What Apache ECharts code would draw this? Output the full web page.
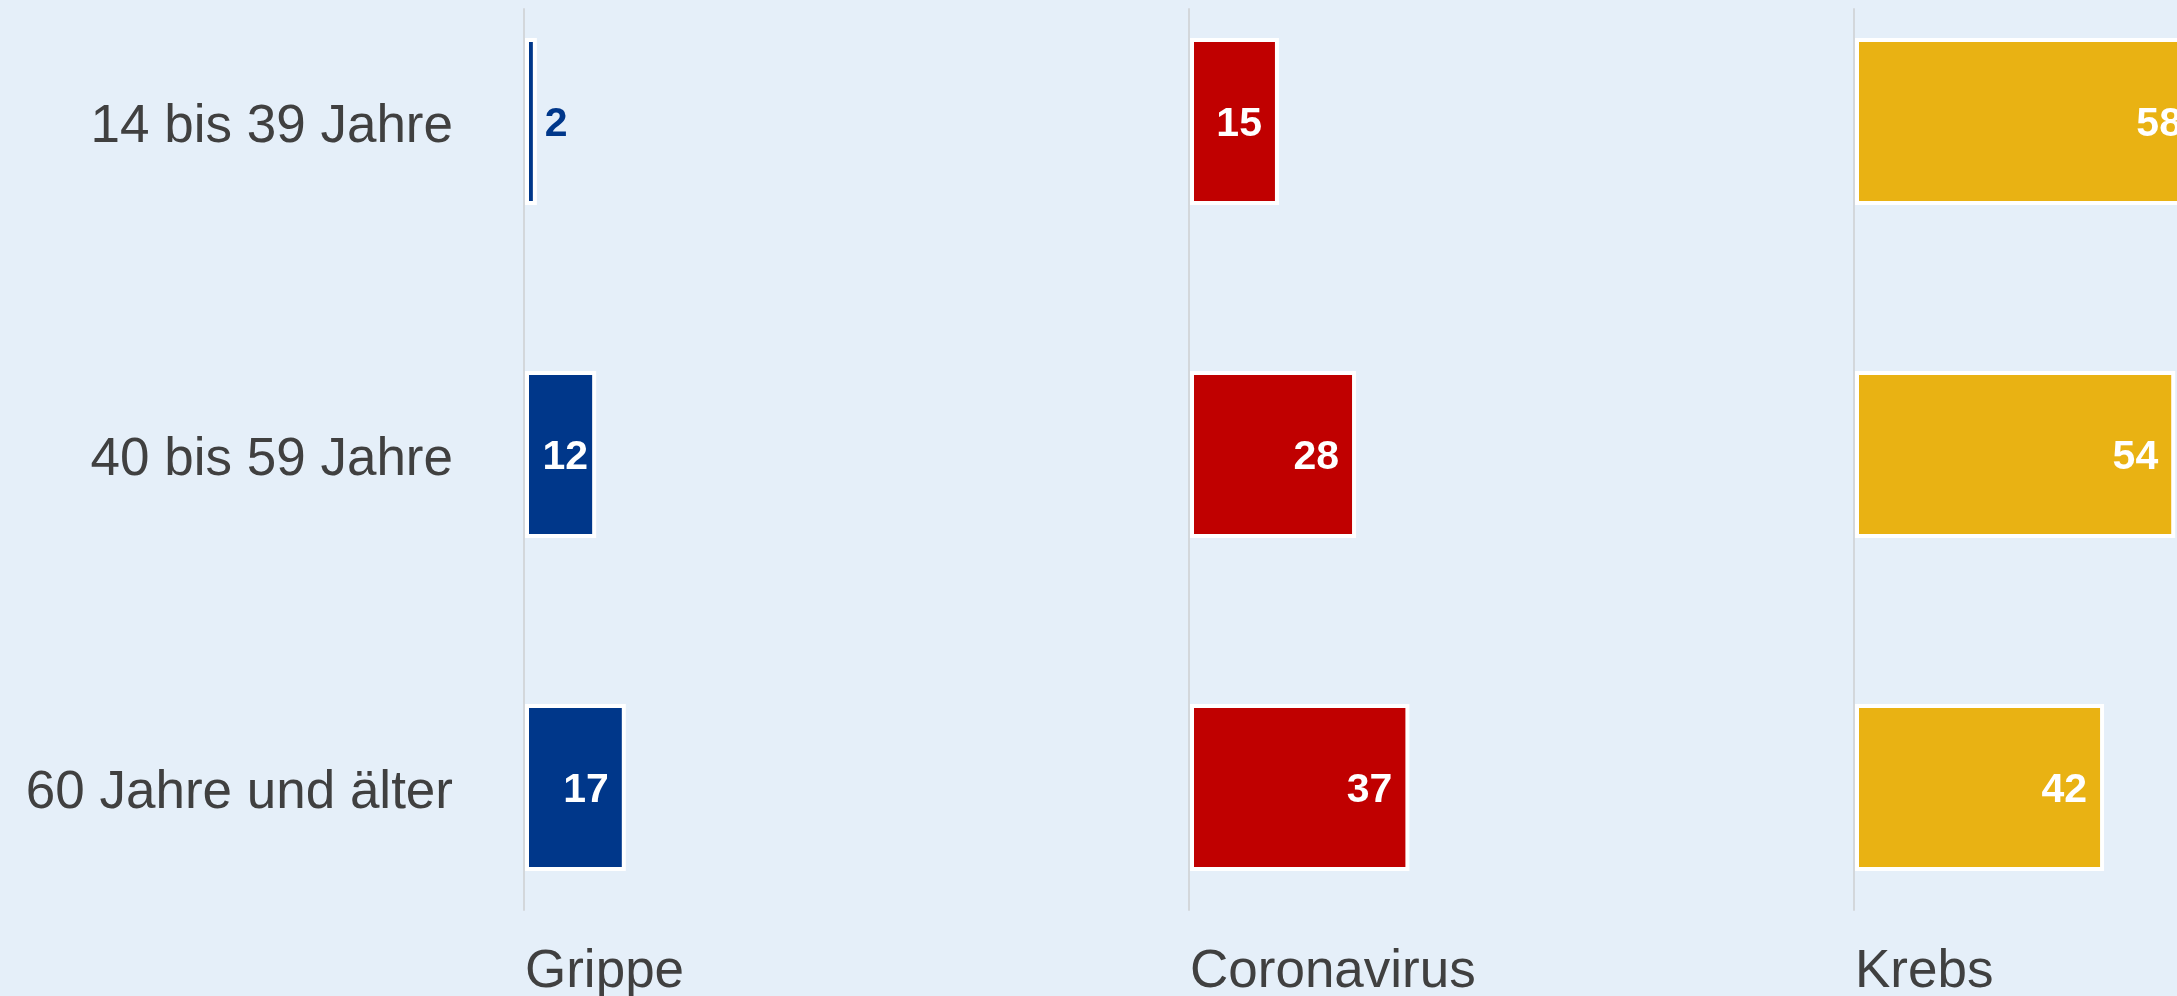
<!DOCTYPE html>
<html>
<head>
<meta charset="utf-8">
<script src="https://cdn.jsdelivr.net/npm/echarts@6/dist/echarts.min.js"></script>
<style>
html,body{margin:0;padding:0;background:#E5EFF9;}
#c{width:2177px;height:996px;}
</style>
</head>
<body>
<div id="c"></div>
<script>
const categories = ['14 bis 39 Jahre', '40 bis 59 Jahre', '60 Jahre und älter'];
const panels = ['Grippe', 'Coronavirus', 'Krebs'];
const grippe = [2, 12, 17];
const coronavirus = [15, 28, 37];
const krebs = [58, 54, 42];
const seriesValues = [grippe, coronavirus, krebs];
const colors = ['#00378A', '#C00000', '#E9B213'];

const lefts = [525, 1190, 1855];
const textColor = '#404040';
const font = '"Liberation Sans", Arial, sans-serif';

const grids = [], xAxes = [], yAxes = [], series = [], titles = [];
panels.forEach((name, i) => {
  grids.push({ left: lefts[i], top: -45, width: 593, height: 999, outerBoundsMode: 'none', containLabel: false });
  xAxes.push({ gridIndex: i, type: 'value', min: 0, max: 100, show: false });
  yAxes.push({
    gridIndex: i, type: 'category', data: categories, inverse: true,
    axisLine: { show: false }, axisTick: { show: false },
    axisLabel: i === 0 ? {
      show: true, formatter: '{t|{value}}', margin: 72,
      rich: { t: { color: textColor, fontSize: 53, fontFamily: font, padding: [12, 0, 0, 0] } }
    } : { show: false }
  });
  series.push({
    type: 'bar', xAxisIndex: i, yAxisIndex: i, barWidth: 167,
    itemStyle: { color: colors[i], borderColor: '#FFFFFF', borderWidth: 4 },
    label: { show: true, position: 'insideRight', distance: 17, offset: [0, 3], color: '#FFFFFF',
             fontSize: 41, fontWeight: 'bold', fontFamily: font },
    data: seriesValues[i].map(v => v < 5
      ? { value: v, label: { position: 'right', distance: 8, color: colors[i] } }
      : (v < 14 ? { value: v, label: { distance: 8 } } : v))
  });
  titles.push({ text: name, left: lefts[i], top: 940, padding: 0,
    textStyle: { color: textColor, fontSize: 53, fontWeight: 'normal', fontFamily: font, lineHeight: 64 } });
});
// separator axis lines
panels.forEach((name, i) => {
  const gi = grids.length;
  grids.push({ left: lefts[i] - 1, top: 9, height: 901, width: 10, outerBoundsMode: 'none', containLabel: false });
  xAxes.push({ gridIndex: gi, type: 'value', min: 0, max: 1, show: false });
  yAxes.push({ gridIndex: gi, type: 'value', min: 0, max: 1,
    axisLine: { show: true, lineStyle: { color: '#D3D7DB', width: 2 } },
    axisTick: { show: false }, axisLabel: { show: false }, splitLine: { show: false } });
});

const chart = echarts.init(document.getElementById('c'));
chart.setOption({
  backgroundColor: '#E5EFF9',
  animation: false,
  title: titles,
  grid: grids,
  xAxis: xAxes,
  yAxis: yAxes,
  series: series
});
</script>
</body>
</html>
